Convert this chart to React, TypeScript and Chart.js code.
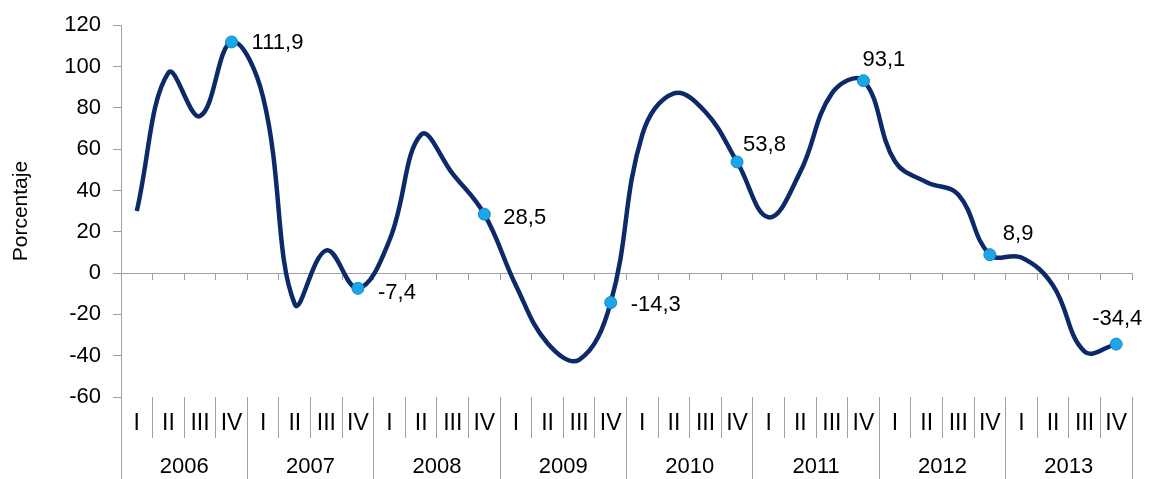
import { useEffect, useRef } from "react";
import { Chart, registerables } from "chart.js";

Chart.register(...registerables);

// ---- data ----
const years = ["2006", "2007", "2008", "2009", "2010", "2011", "2012", "2013"];
const quarterNames = ["I", "II", "III", "IV"];
const quarterLabels = years.flatMap(() => quarterNames);

const values = [
  30, 97, 76, 111.9,
  85, -15, 11, -7.4,
  16, 67, 48, 28.5,
  -6, -34, -42, -14.3,
  67, 87, 78, 53.8,
  27, 49, 87, 93.1,
  54, 44, 38, 8.9,
  7.5, -6, -38, -34.4,
];

const yMin = -60;
const yMax = 120;
const yStep = 20;
const yTitle = "Porcentaje";

// label placement (dx, dy from point) for the labelled IV-quarter points
const labelOffsets: [number, number][] = [
  [20, 1], [20, 5], [19, 4], [20, 2], [6, -17], [-1, -21], [13, -21], [-24, -25],
];

const FONT = "'Liberation Sans', Arial, Helvetica, sans-serif";
const GRAY = "#A0A0A0";
const LINE = "#0C2A6A";
const MARK = "#1BA6E9";

const fmt = (v: number) => String(v).replace(".", ",");

const dataLabelPlugin = {
  id: "ivLabels",
  afterDatasetsDraw(chart: any) {
    const meta = chart.getDatasetMeta(0);
    const ctx = chart.ctx;
    ctx.save();
    ctx.font = `22px ${FONT}`;
    ctx.fillStyle = "#000";
    ctx.textAlign = "left";
    ctx.textBaseline = "middle";
    let k = 0;
    values.forEach((v, i) => {
      if (i % 4 !== 3) return;
      const el = meta.data[i];
      const [dx, dy] = labelOffsets[k++] || [18, 0];
      ctx.fillText(fmt(v), el.x + dx, el.y + dy);
    });
    ctx.restore();
  },
};

export default function App() {
  const ref = useRef<HTMLCanvasElement | null>(null);

  useEffect(() => {
    if (!ref.current) return;
    const chart = new Chart(ref.current, {
      type: "line",
      data: {
        labels: quarterLabels,
        datasets: [
          {
            data: values,
            borderColor: LINE,
            borderWidth: 4.5,
            tension: 0.4,
            fill: false,
            xAxisID: "x",
            yAxisID: "y",
            pointRadius: (c: any) => (c.dataIndex % 4 === 3 ? 6 : 0),
            pointHoverRadius: (c: any) => (c.dataIndex % 4 === 3 ? 6 : 0),
            pointBackgroundColor: MARK,
            pointBorderColor: "#1688C8",
            pointBorderWidth: 1,
          },
        ],
      },
      options: {
        animation: false,
        responsive: true,
        maintainAspectRatio: false,
        layout: { padding: { top: 25, right: 18, left: 0, bottom: 0 } },
        plugins: {
          legend: { display: false },
          tooltip: { enabled: false },
        },
        scales: {
          y: {
            type: "linear",
            min: yMin,
            max: yMax,
            ticks: {
              stepSize: yStep,
              font: { size: 22, family: FONT },
              color: "#000",
              padding: 12,
            },
            grid: { drawOnChartArea: false, tickLength: 8, color: GRAY },
            border: { display: true, color: GRAY },
            title: {
              display: true,
              text: yTitle,
              font: { size: 21, family: FONT },
              color: "#000",
              padding: { top: 9, bottom: 0 },
            },
            afterFit: (s: any) => {
              s.width = 121;
            },
          },
          x: {
            type: "category",
            position: "bottom",
            weight: 0,
            offset: true,
            grid: { offset: true, drawOnChartArea: false, tickLength: 41, color: GRAY },
            border: { display: false },
            ticks: {
              autoSkip: false,
              maxRotation: 0,
              minRotation: 0,
              font: { size: 23, family: FONT },
              color: "#000",
              padding: -28,
            },
            afterFit: (s: any) => {
              s.height = 41;
            },
          },
          x2: {
            type: "category",
            position: "bottom",
            weight: 1,
            labels: years,
            offset: true,
            grid: { offset: true, drawOnChartArea: false, tickLength: 45, color: GRAY },
            border: { display: false },
            ticks: {
              autoSkip: false,
              maxRotation: 0,
              minRotation: 0,
              font: { size: 22, family: FONT },
              color: "#000",
              padding: -29,
            },
            afterFit: (s: any) => {
              s.height = 41;
            },
          },
          x0: {
            type: "category",
            position: { y: 0 },
            labels: quarterLabels,
            offset: true,
            grid: { offset: true, drawOnChartArea: false, tickLength: 6, color: GRAY },
            border: { display: true, color: GRAY, width: 1 },
            ticks: { display: false },
          },
        } as any,
      },
      plugins: [dataLabelPlugin],
    });
    return () => chart.destroy();
  }, []);

  return (
    <div style={{ position: "absolute", left: 0, top: 0, width: 1150, height: 479, background: "#fff" }}>
      <canvas ref={ref} />
    </div>
  );
}
